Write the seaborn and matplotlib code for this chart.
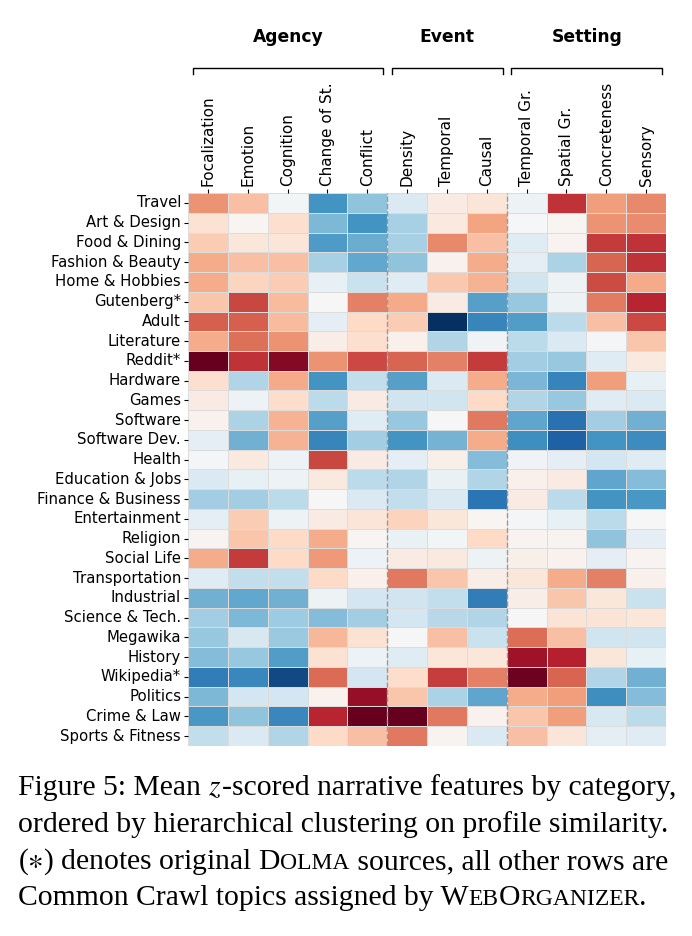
import numpy as np
import pandas as pd
import matplotlib
matplotlib.use("Agg")
import matplotlib.pyplot as plt
import matplotlib.transforms as mtransforms
from matplotlib.offsetbox import TextArea, HPacker, AnnotationBbox
import seaborn as sns

# =========================
# Data (mean z-scores)
# =========================
categories = [
    "Travel", "Art & Design", "Food & Dining", "Fashion & Beauty",
    "Home & Hobbies", "Gutenberg*", "Adult", "Literature", "Reddit*",
    "Hardware", "Games", "Software", "Software Dev.", "Health",
    "Education & Jobs", "Finance & Business", "Entertainment", "Religion",
    "Social Life", "Transportation", "Industrial", "Science & Tech.",
    "Megawika", "History", "Wikipedia*", "Politics", "Crime & Law",
    "Sports & Fitness",
]

focalization = [0.45, 0.15, 0.25, 0.37, 0.37, 0.28, 0.6, 0.37, 1.0, 0.17, 0.08, 0.04, -0.1, -0.02,
                -0.15, -0.35, -0.1, 0.03, 0.37, -0.12, -0.48, -0.35, -0.38, -0.43, -0.7, -0.45, -0.58, -0.25]
emotion = [0.3, 0.02, 0.12, 0.3, 0.22, 0.67, 0.6, 0.55, 0.72, -0.3, -0.06, -0.32, -0.48, 0.1,
           -0.08, -0.35, 0.25, 0.28, 0.7, -0.25, -0.52, -0.45, -0.17, -0.38, -0.65, -0.18, -0.4, -0.15]
cognition = [-0.03, 0.17, 0.13, 0.3, 0.25, 0.32, 0.32, 0.45, 0.92, 0.38, 0.18, 0.35, 0.35, -0.06,
             -0.05, -0.27, -0.05, 0.2, 0.2, -0.25, -0.48, -0.36, -0.37, -0.56, -0.9, -0.18, -0.65, -0.3]
change_of_state = [-0.6, -0.45, -0.57, -0.33, -0.08, 0.0, -0.1, 0.07, 0.45, -0.6, -0.27, -0.55, -0.66, 0.67,
                   0.1, 0.0, 0.08, 0.37, 0.43, 0.2, -0.05, -0.43, 0.33, 0.15, 0.57, 0.04, 0.76, 0.2]
conflict = [-0.4, -0.6, -0.5, -0.52, -0.22, 0.5, 0.2, 0.17, 0.66, -0.25, 0.08, -0.12, -0.35, 0.08,
            -0.27, -0.15, 0.13, 0.02, -0.06, 0.05, -0.18, -0.35, 0.15, -0.06, -0.18, 0.87, 1.0, 0.3]
density = [-0.15, -0.33, -0.33, -0.4, -0.12, 0.38, 0.25, 0.05, 0.58, -0.55, -0.2, -0.38, -0.6, -0.1,
           -0.3, -0.25, 0.23, -0.07, 0.08, 0.53, -0.2, -0.18, 0.0, -0.12, 0.18, 0.28, 1.0, 0.53]
temporal = [0.08, 0.1, 0.48, 0.04, 0.27, 0.08, -1.0, -0.3, 0.5, -0.15, -0.2, 0.0, -0.47, 0.06,
            -0.07, -0.15, 0.12, -0.03, 0.1, 0.28, -0.25, -0.28, 0.3, 0.12, 0.69, -0.32, 0.53, 0.03]
causal = [0.13, 0.4, 0.3, 0.37, 0.35, -0.55, -0.66, -0.04, 0.7, 0.37, 0.2, 0.53, 0.37, -0.43,
          -0.3, -0.73, 0.02, 0.2, -0.05, 0.07, -0.7, -0.3, -0.22, 0.12, 0.5, -0.53, 0.04, -0.15]
temporal_gr = [-0.05, -0.01, -0.12, -0.1, -0.2, -0.38, -0.56, -0.27, -0.35, -0.46, -0.3, -0.53, -0.62, -0.04,
               0.05, 0.08, -0.02, 0.03, 0.06, 0.12, 0.07, 0.0, 0.56, 0.85, 0.98, 0.37, 0.28, 0.3]
spatial_gr = [0.72, 0.02, 0.03, -0.32, -0.05, -0.05, -0.27, -0.15, -0.38, -0.67, -0.38, -0.75, -0.82, -0.1,
              0.08, -0.27, -0.08, 0.03, 0.04, 0.37, 0.28, 0.14, 0.3, 0.78, 0.58, 0.42, 0.42, 0.13]
concreteness = [0.42, 0.45, 0.7, 0.58, 0.65, 0.52, 0.3, -0.02, -0.12, 0.42, -0.12, -0.35, -0.6, -0.18,
                -0.53, -0.6, -0.27, -0.4, -0.1, 0.5, 0.12, 0.14, -0.2, 0.12, -0.3, -0.62, -0.17, -0.1]
sensory = [0.48, 0.47, 0.72, 0.72, 0.38, 0.76, 0.66, 0.28, 0.1, -0.08, -0.15, -0.48, -0.63, -0.12,
           -0.43, -0.58, 0.0, -0.1, 0.03, 0.05, -0.22, 0.12, -0.2, -0.08, -0.48, -0.43, -0.27, -0.12]

feature_labels = ["Focalization", "Emotion", "Cognition", "Change of St.", "Conflict",
                  "Density", "Temporal", "Causal",
                  "Temporal Gr.", "Spatial Gr.", "Concreteness", "Sensory"]

# group name, first column, last column
groups = [("Agency", 0, 4), ("Event", 5, 7), ("Setting", 8, 11)]

df = pd.DataFrame(
    np.column_stack([focalization, emotion, cognition, change_of_state, conflict,
                     density, temporal, causal,
                     temporal_gr, spatial_gr, concreteness, sensory]),
    index=categories, columns=feature_labels)

# =========================
# Figure
# =========================
plt.rcParams["mathtext.fontset"] = "stix"
fig = plt.figure(figsize=(6.92, 9.36), dpi=100)
ax = fig.add_axes([0.2717, 0.2030, 0.6908, 0.5908])

sns.heatmap(df, ax=ax, cmap="RdBu_r", vmin=-1, vmax=1, center=0, cbar=False,
            linewidths=0.6, linecolor="#dcdcdc")

ax.xaxis.tick_top()
ax.set_xticks(np.arange(len(feature_labels)) + 0.5)
ax.set_xticklabels(feature_labels, rotation=90, fontsize=11, ha="center", va="bottom")
ax.set_yticks(np.arange(len(categories)) + 0.5)
ax.set_yticklabels(categories, rotation=0, fontsize=10.7)
ax.tick_params(axis="both", length=3, width=0.8, pad=2)
ax.set_xlabel("")
ax.set_ylabel("")

# dashed separators between feature groups
for _, start, _ in groups[1:]:
    ax.axvline(start, color="#999999", ls="--", lw=1)

# group brackets + headers
trans = mtransforms.blended_transform_factory(ax.transData, ax.transAxes)
for name, c0, c1 in groups:
    x0, x1 = c0 + 0.12, c1 + 0.9
    ax.plot([x0, x0, x1, x1], [1.215, 1.226, 1.226, 1.215], color="black", lw=1,
            transform=trans, clip_on=False)
    ax.text((x0 + x1) / 2, 1.282, name, transform=trans, ha="center", va="center",
            fontsize=12.3, fontweight="bold")

# =========================
# Caption (serif, small caps emulated)
# =========================
big, small = 21.3, 17
serif = "Liberation Serif"

def caption_line(pieces, y):
    boxes = [TextArea(t, textprops=dict(fontsize=s, family=serif)) for t, s in pieces]
    pack = HPacker(children=boxes, align="baseline", pad=0, sep=0)
    ab = AnnotationBbox(pack, (18 / 692, y), xycoords="figure fraction",
                        box_alignment=(0, 0.5), frameon=False, pad=0)
    fig.add_artist(ab)

caption_line([("Figure 5: Mean ", big), ("$z$", big),
              ("-scored narrative features by category,", big)], 1 - 788 / 936)
caption_line([("ordered by hierarchical clustering on profile similarity.", big)], 1 - 825 / 936)
caption_line([("($\\ast$) denotes original D", big), ("OLMA", small),
              (" sources, all other rows are", big)], 1 - 862 / 936)
caption_line([("Common Crawl topics assigned by W", big), ("EB", small), ("O", big),
              ("RGANIZER", small), (".", big)], 1 - 898 / 936)

fig.savefig("out.png", dpi=100)
